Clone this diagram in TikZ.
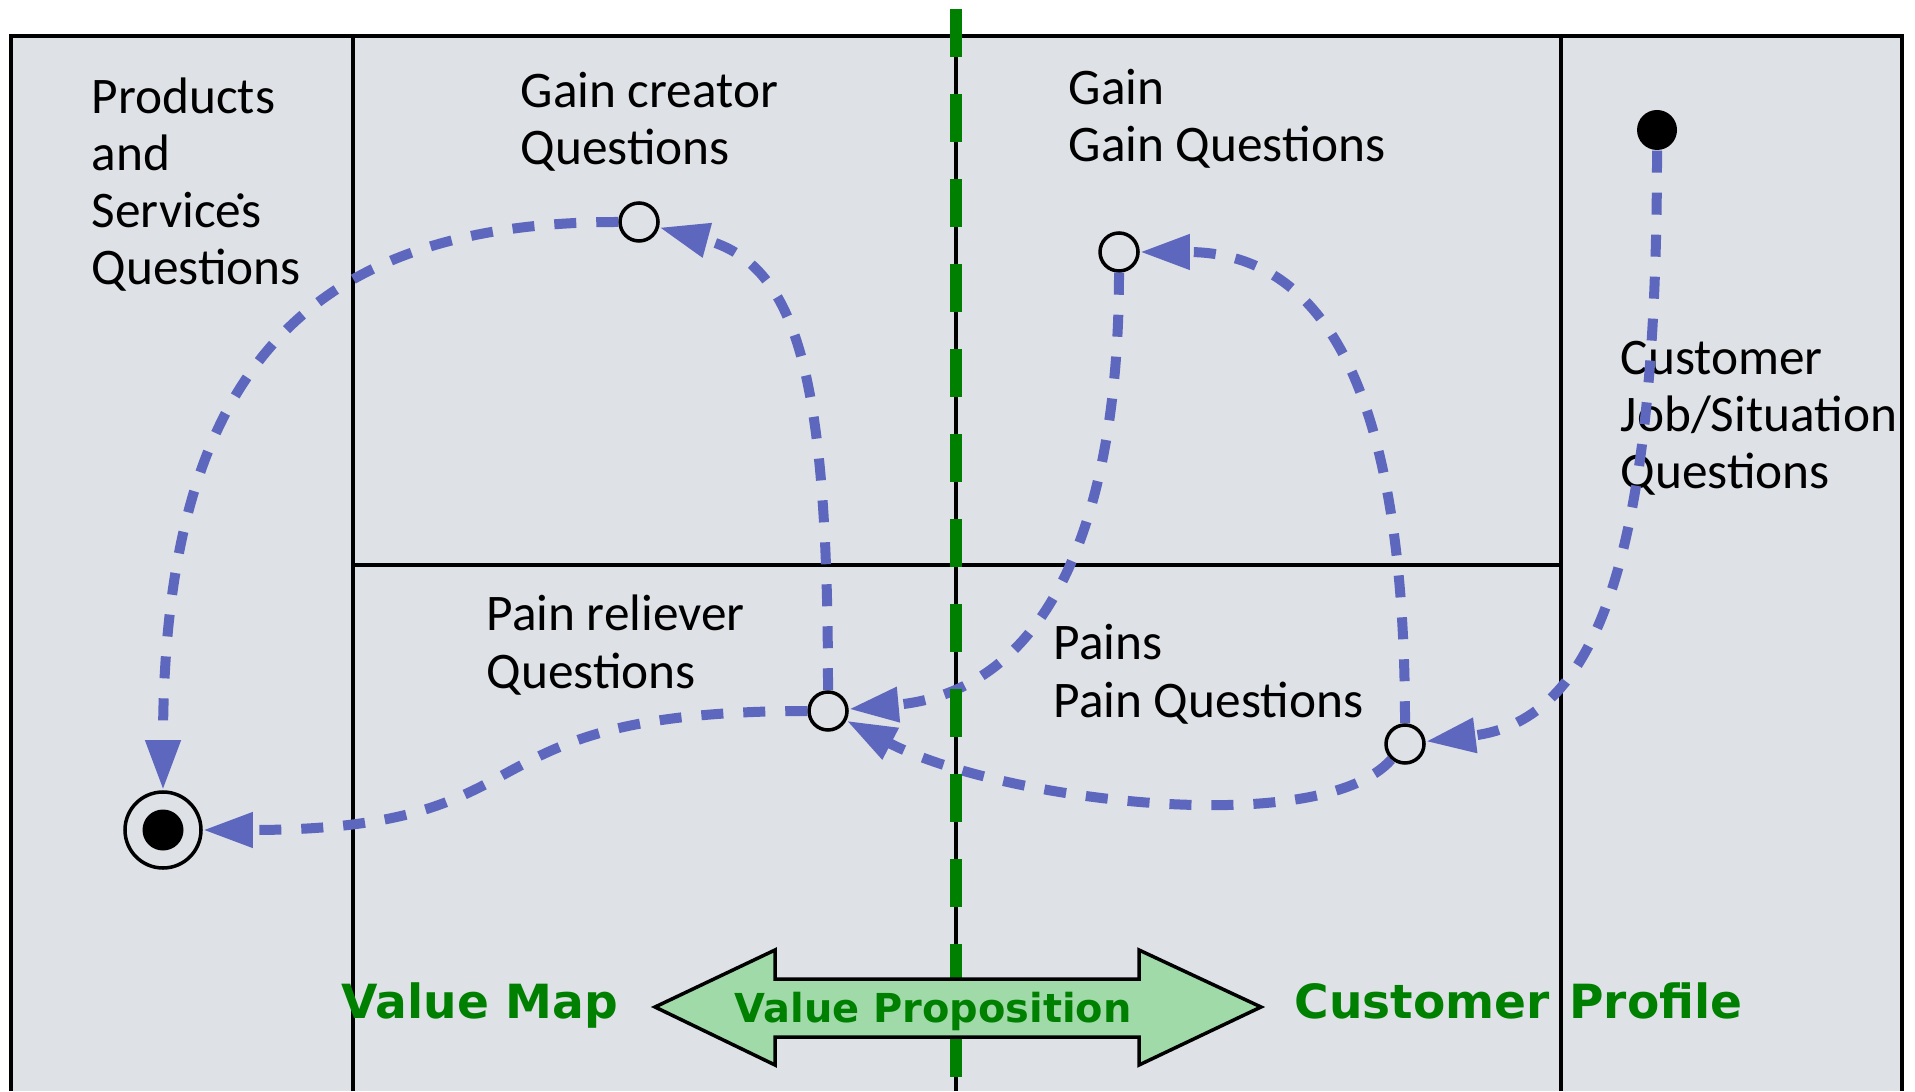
\documentclass[tikz,border=0pt]{standalone}
\usepackage{fontspec}
\setmainfont{Carlito}
\newfontfamily\headfont{DejaVu Sans}
\usetikzlibrary{arrows.meta}
\definecolor{canvasgray}{RGB}{222,225,229}
\definecolor{flowblue}{RGB}{94,103,190}
\definecolor{vpgreen}{RGB}{0,128,0}
\definecolor{vpfill}{RGB}{160,218,168}
\tikzset{
    frame/.style={black,line width=1pt},
    junction/.style={circle,draw=black,line width=1pt,minimum size=0.38cm,inner sep=0pt},
    startdot/.style={circle,fill=black,minimum size=0.40cm,inner sep=0pt},
    finishdot/.style={circle,draw=black,line width=1pt,minimum size=0.76cm,inner sep=0pt,
        path picture={\fill[black] (path picture bounding box.center) circle (0.205);}},
    flow/.style={flowblue,line width=0.1cm,dash pattern=on 0.22cm off 0.2cm,
        -{Triangle[length=0.5cm,width=0.33cm]}},
    question/.style={anchor=base west,align=left,inner sep=0pt,font=\fontsize{14.6}{16.3}\selectfont},
    side/.style={anchor=base west,inner sep=0pt,text=vpgreen,font=\headfont\bfseries\fontsize{13.4}{16}\selectfont},
    axis/.style={vpgreen,line width=0.12cm,dash pattern=on 0.48cm off 0.37cm},
    proposition/.style={draw=black,fill=vpfill,line width=1pt,line join=miter}
}
\begin{document}
\begin{tikzpicture}
\useasboundingbox (0,0) rectangle (19.15,10.91);
\fill[canvasgray] (0.11,0) rectangle (19.02,10.55);
\draw[frame] (0.11,0) -- (0.11,10.55) -- (19.02,10.55) -- (19.02,0);
\draw[frame] (3.53,0) -- (3.53,10.55);
\draw[frame] (9.56,0) -- (9.56,10.55);
\draw[frame] (15.61,0) -- (15.61,10.55);
\draw[frame] (3.53,5.26) -- (15.61,5.26);

\node[question] (productslbl) at (0.91,8.06) {Products\\and\\Service\makebox[0pt]{\raisebox{0.55em}{.}}s\\Questions};
\node[question] (creatorlbl) at (5.20,9.26) {Gain creator\\Questions};
\node[question] (gainlbl) at (10.68,9.29) {Gain\\Gain Questions};
\node[question] (joblbl) at (16.20,6.02) {Customer\\Job/Situation\\Questions};
\node[question] (relieverlbl) at (4.86,4.03) {Pain reliever\\Questions};
\node[question] (painlbl) at (10.53,3.74) {Pains\\Pain Questions};

\node[startdot] (start) at (16.57,9.61) {};
\node[junction] (creator) at (6.39,8.69) {};
\node[junction] (gain) at (11.19,8.39) {};
\node[junction] (reliever) at (8.28,3.80) {};
\node[junction] (pain) at (14.05,3.47) {};
\node[finishdot] (finish) at (1.63,2.61) {};

\draw[flow] (start) .. controls +(0,-4.2) and +(1.95,0.24) .. (pain);
\draw[flow] (pain) .. controls +(0,3.44) and +(2.1,0) .. (gain);
\draw[flow] (gain) .. controls +(0,-2.7) and +(2.2,0.2) .. (reliever);
\draw[flow] (pain) .. controls +(-0.85,-0.96) and +(1.72,-0.9) .. (reliever);
\draw[flow] (reliever) .. controls +(0,3.3) and +(1.6,-0.43) .. (creator);
\draw[flow] (creator) .. controls +(-3.4,0) and +(0,4.5) .. (finish);
\draw[flow] (reliever) .. controls +(-3.8,0) and +(4,0) .. (finish);

\draw[axis] (9.56,10.82) -- (9.56,0);
\draw[proposition] (6.55,0.84) -- (7.75,1.41) -- (7.75,1.12) -- (11.39,1.12) -- (11.39,1.41)
    -- (12.61,0.84) -- (11.39,0.26) -- (11.39,0.54) -- (7.75,0.54) -- (7.75,0.26) -- cycle;
\node[side,font=\headfont\bfseries\fontsize{11.35}{13}\selectfont] (propositionlbl) at (7.34,0.69) {Value Proposition};
\node[side] (valuemaplbl) at (3.41,0.73) {Value Map};
\node[side] (profilelbl) at (12.94,0.73) {Customer\hspace{0.03cm} Profile};
\end{tikzpicture}
\end{document}
